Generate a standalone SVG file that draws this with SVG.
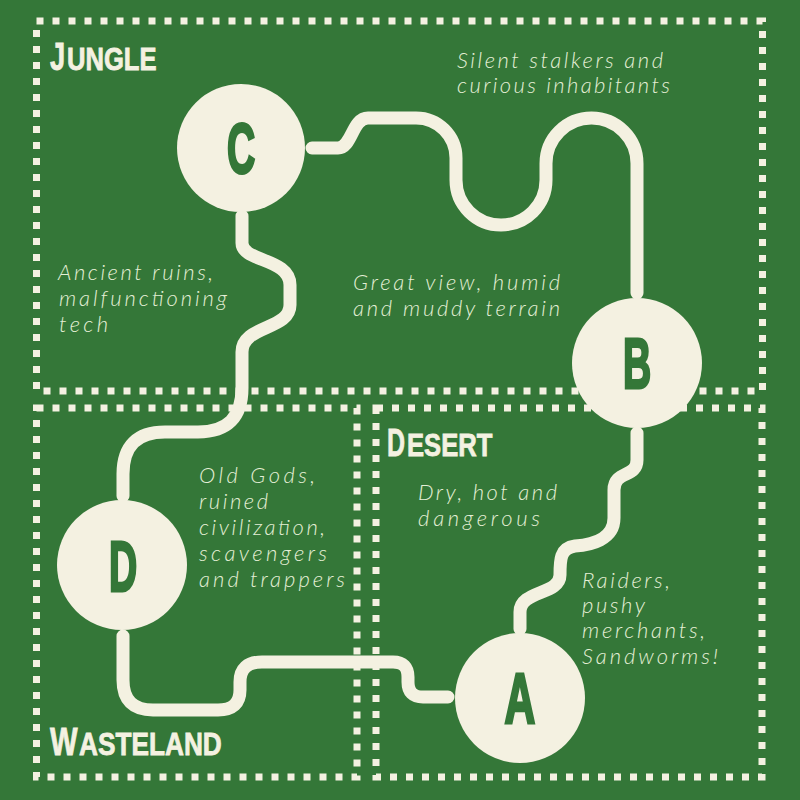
<svg xmlns="http://www.w3.org/2000/svg" width="800" height="800" viewBox="0 0 800 800">
<style>
.zone{fill:none;stroke:#f4f1e1;stroke-width:7;stroke-dasharray:7 9}
.road{fill:none;stroke:#f4f1e1;stroke-width:13;stroke-linecap:round;stroke-linejoin:round}
.node{fill:#f4f1e1}
.letter{font-family:"Liberation Sans",Arial,sans-serif;font-weight:bold;font-size:71px;fill:#347738;stroke:#347738;stroke-width:3;text-anchor:middle}
.title{font-family:"Liberation Sans",Arial,sans-serif;font-weight:bold;fill:#f4f1e1;stroke:#f4f1e1;stroke-width:0.8}
.big{font-size:39px}
.small{font-size:32px}
.desc{font-family:Lato,"Open Sans","Liberation Sans",sans-serif;font-style:italic;font-weight:300;font-size:22px;fill:#e4efd6}
</style>
<rect width="800" height="800" fill="#347738"/>
<g id="zones">
<rect class="zone" x="36.5" y="21" width="726" height="370"/>
<rect class="zone" x="36.5" y="408" width="320.5" height="369"/>
<rect class="zone" x="376" y="408" width="386" height="369"/>
</g>
<g id="connectors">
<path class="road" d="M 312 148 H 338 C 352 148 352 118 368 118 H 416 A 40 40 0 0 1 456 158 V 180 A 45 45 0 0 0 546 180 V 163.5 A 45.5 45.5 0 0 1 637 163.5 V 293"/>
<path class="road" d="M 242 216 V 243 C 242 262 290 258 290 285 V 305 C 290 330 242 325 242 352 V 388 Q 242 432 198 432 H 165 Q 123 432 123 474 V 496"/>
<path class="road" d="M 123 636 V 680 Q 123 710 153 710 H 218 Q 240 710 240 690 V 682 Q 240 662 262 662 H 393 Q 408 662 408 677 V 682 Q 408 697 423 697 H 448"/>
<path class="road" d="M 637 433 V 460 C 637 478 614 470 614 490 V 518 C 614 540 590 545 575 546 C 560 548 560 560 560 575 C 560 595 520 590 520 612 V 629"/>
</g>
<g id="node-C"><circle class="node" cx="241" cy="148" r="64"/><text class="letter" transform="translate(241,173) scale(0.55,1)">C</text></g>
<g id="node-B"><circle class="node" cx="637" cy="363" r="65"/><text class="letter" transform="translate(637,388) scale(0.55,1)">B</text></g>
<g id="node-D"><circle class="node" cx="122" cy="565" r="65"/><text class="letter" transform="translate(123,591) scale(0.55,1)">D</text></g>
<g id="node-A"><circle class="node" cx="520" cy="698" r="65"/><text class="letter" transform="translate(520,723) scale(0.6,1)">A</text></g>
<g id="titles">
<text class="title big" transform="translate(50,70) scale(0.7,1)">J</text>
<text class="title small" transform="translate(67,70) scale(0.8,1)">UNGLE</text>
<text class="title big" transform="translate(387,456) scale(0.64,1)">D</text>
<text class="title small" transform="translate(407,456) scale(0.8,1)">ESERT</text>
<text class="title big" transform="translate(50,755) scale(0.75,1)">W</text>
<text class="title small" transform="translate(79,755) scale(0.82,1)">ASTELAND</text>
</g>
<g id="descriptions">
<text class="desc" x="457" y="68" textLength="206">Silent stalkers and</text>
<text class="desc" x="457" y="93" textLength="213">curious inhabitants</text>
<text class="desc" x="58" y="280" textLength="155">Ancient ruins,</text>
<text class="desc" x="59" y="306" textLength="168">malfunctioning</text>
<text class="desc" x="59" y="332" textLength="49">tech</text>
<text class="desc" x="353" y="290" textLength="207">Great view, humid</text>
<text class="desc" x="353" y="316" textLength="207">and muddy terrain</text>
<text class="desc" x="199" y="483" textLength="116">Old Gods,</text>
<text class="desc" x="199" y="509" textLength="69">ruined</text>
<text class="desc" x="199" y="535" textLength="126">civilization,</text>
<text class="desc" x="199" y="561" textLength="128">scavengers</text>
<text class="desc" x="199" y="587" textLength="146">and trappers</text>
<text class="desc" x="418" y="500" textLength="139">Dry, hot and</text>
<text class="desc" x="418" y="526" textLength="122">dangerous</text>
<text class="desc" x="582" y="588" textLength="88">Raiders,</text>
<text class="desc" x="582" y="613" textLength="63">pushy</text>
<text class="desc" x="582" y="638" textLength="123">merchants,</text>
<text class="desc" x="582" y="664" textLength="136">Sandworms!</text>
</g>
</svg>
